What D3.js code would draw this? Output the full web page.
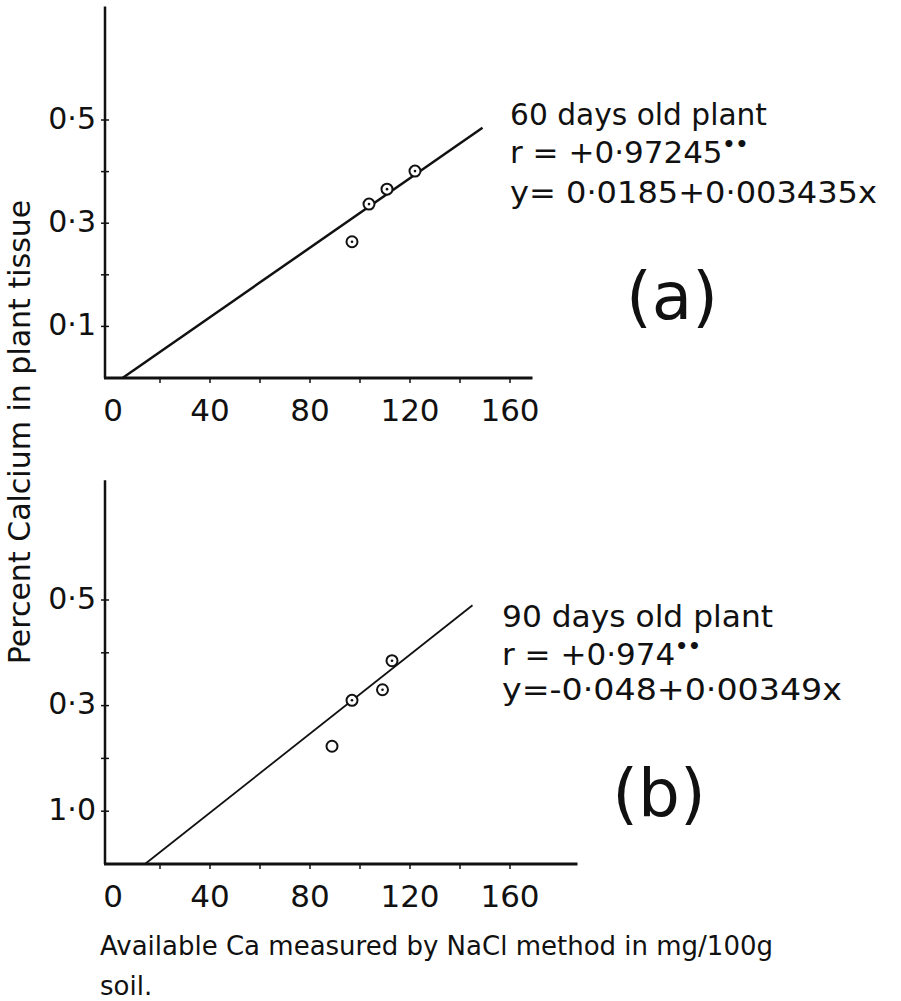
<html><head>
  <script src="https://d3js.org/d3.v7.min.js"></script>
  <style>
    body { margin:0; background:#fff; }
    text { font-family:"DejaVu Sans", sans-serif; fill:#111; }
  </style>
</head>
<body>
<svg id="chart" width="901" height="1001"></svg>
<script>
// values
const xTickLabels = [0, 40, 80, 120, 160];
const xMinorTicks = [20, 40, 60, 80, 100, 120, 140, 160];
const yMinorTicks = [0.1, 0.2, 0.3, 0.4, 0.5];
const yTicksA = [0.1, 0.3, 0.5];
const yLabelsA = ["0·1", "0·3", "0·5"];
const yTicksB = [0.1, 0.3, 0.5];
const yLabelsB = ["1·0", "0·3", "0·5"];

const pointsA = [{x:96.8, y:0.264}, {x:103.6, y:0.337}, {x:110.8, y:0.366}, {x:122, y:0.401}];
const pointsB = [{x:88.8, y:0.223, dot:false}, {x:96.8, y:0.31, dot:true}, {x:109, y:0.33, dot:true}, {x:112.8, y:0.385, dot:true}];
const fitA = [{x:5, y:0}, {x:149, y:0.485}];
const fitB = [{x:14, y:0}, {x:145, y:0.49}];

const notesA = ["60 days old plant", "r = +0·97245", "y= 0·0185+0·003435x"];
const notesB = ["90 days old plant", "r = +0·974", "y=-0·048+0·00349x"];

let svg = d3.select("svg#chart");

let x = d3.scaleLinear().domain([0,160]).range([110,510]);

function panel(yRange, yTop, xEnd, ticks, labels, pts, fit, notes, notePos, letter, letterPos, fitWidth) {
  let y = d3.scaleLinear().domain([0,0.5]).range(yRange);

  // axis lines
  svg.append("line")
     .attr("x1",105).attr("x2",105)
     .attr("y1",y(yTop)).attr("y2",y(0))
     .style("stroke","#111").style("stroke-width",2.5);
  svg.append("line")
     .attr("x1",104).attr("x2",x(xEnd))
     .attr("y1",y(0)).attr("y2",y(0))
     .style("stroke","#111").style("stroke-width",3);

  // minor ticks
  yMinorTicks.forEach(t => {
    svg.append("line")
       .attr("x1",101).attr("x2",109)
       .attr("y1",y(t)).attr("y2",y(t))
       .style("stroke","#111").style("stroke-width",1.5);
  });
  xMinorTicks.forEach(t => {
    svg.append("line")
       .attr("x1",x(t)).attr("x2",x(t))
       .attr("y1",y(0)).attr("y2",y(0)+5)
       .style("stroke","#111").style("stroke-width",1.5);
  });

  // tick labels
  ticks.forEach((t,i) => {
    svg.append("text")
       .text(labels[i])
       .attr("x",96)
       .attr("y",y(t))
       .style("font-size","30px")
       .style("text-anchor","end")
       .style("dominant-baseline","middle");
  });
  xTickLabels.forEach(t => {
    svg.append("text")
       .text(t)
       .attr("x",x(t) + (t==0 ? 3 : 0))
       .attr("y",y(0)+43)
       .style("font-size","31px")
       .style("text-anchor","middle");
  });

  // fitted line
  svg.append("line")
     .attr("x1",x(fit[0].x)).attr("y1",y(fit[0].y))
     .attr("x2",x(fit[1].x)).attr("y2",y(fit[1].y))
     .style("stroke","#111").style("stroke-width",fitWidth);

  // points
  pts.forEach(d => {
    svg.append("circle")
       .attr("cx",x(d.x)).attr("cy",y(d.y)).attr("r",5.5)
       .style("fill","#fff").style("stroke","#111").style("stroke-width",2);
    if (d.dot !== false) {
      svg.append("circle")
         .attr("cx",x(d.x)).attr("cy",y(d.y)).attr("r",1.3)
         .style("fill","#111");
    }
  });

  // notes
  notes.forEach((n,i) => {
    let t = svg.append("text")
       .attr("x",notePos.x)
       .attr("y",notePos.y[i])
       .style("font-size","31px");
    let s = t.append("tspan").text(n);
    if (notePos.w[i]) {
      s.attr("textLength",notePos.w[i]).attr("lengthAdjust","spacingAndGlyphs");
    }
    if (i==1) {
      t.append("tspan").text("••")
       .attr("dy",-12)
       .style("font-size","20px")
       .style("font-weight","bold");
    }
  });

  svg.append("text")
     .text(letter)
     .attr("x",letterPos.x)
     .attr("y",letterPos.y)
     .style("font-size","66px")
     .style("text-anchor","middle");
}

panel([378,120], 0.72, 169, yTicksA, yLabelsA, pointsA, fitA, notesA,
      {x:510, y:[125,163,203], w:[257,null,367]}, "(a)", {x:672, y:319}, 2.5);
panel([864,600], 0.727, 187, yTicksB, yLabelsB, pointsB, fitB, notesB,
      {x:502, y:[627,665,700], w:[271,null,340]}, "(b)", {x:659, y:816}, 1.8);

// axis titles
svg.append("text")
   .text("Percent Calcium in plant tissue")
   .attr("transform","translate(30,432) rotate(-90)")
   .style("font-size","30px")
   .style("text-anchor","middle");

svg.append("text")
   .text("Available  Ca measured by NaCl method in mg/100g")
   .attr("x",100).attr("y",955)
   .style("font-size","26px");
svg.append("text")
   .text("soil.")
   .attr("x",100).attr("y",995)
   .style("font-size","26px");
</script>
</body>
</html>
